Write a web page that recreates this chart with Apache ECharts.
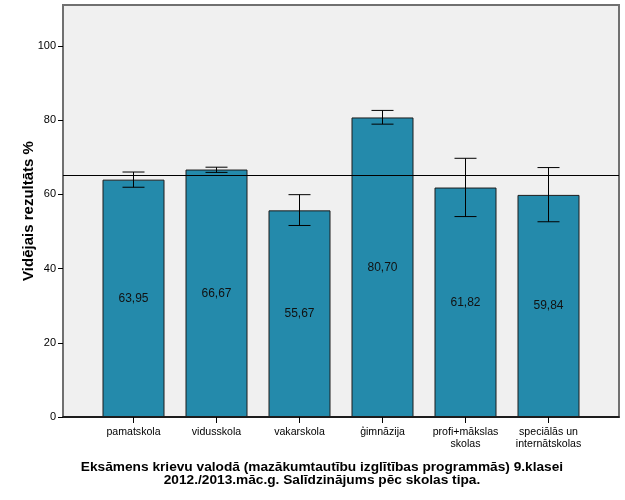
<!DOCTYPE html>
<html>
<head>
<meta charset="utf-8">
<script src="https://cdn.jsdelivr.net/npm/echarts@6/dist/echarts.min.js"></script>
<style>
  html, body { margin: 0; padding: 0; background: #fff; }
  #chart { width: 625px; height: 500px; }
</style>
</head>
<body>
<div id="chart"></div>
<script>
const categories = [
  "pamatskola",
  "vidusskola",
  "vakarskola",
  "ģimnāzija",
  "profi+mākslas\nskolas",
  "speciālās un\ninternātskolas",
];
const means = [63.95, 66.67, 55.67, 80.7, 61.82, 59.84];
const errLow = [61.9, 65.9, 51.6, 78.9, 54.0, 52.6];
const errHigh = [66.0, 67.3, 59.9, 82.6, 69.7, 67.2];
const overallMean = 65.0;
const yTicks = [0, 20, 40, 60, 80, 100];

const font = "Liberation Sans, Arial, sans-serif";

let myChart = echarts.init(document.getElementById("chart"), null, {
  renderer: "canvas",
});

const errData = categories.map((c, i) => [i, errLow[i], errHigh[i]]);

let option = {
  backgroundColor: "#fff",
  animation: false,
  textStyle: { fontFamily: font },
  title: {
    text: "Eksāmens krievu valodā (mazākumtautību izglītības programmās) 9.klasei\n2012./2013.māc.g. Salīdzinājums pēc skolas tipa.",
    left: 317,
    top: 456,
    textAlign: "center",
    textStyle: {
      fontFamily: font,
      fontSize: 13.7,
      fontWeight: "bold",
      color: "#000",
      lineHeight: 13,
    },
  },
  grid: [
    // outer frame
    {
      left: 63, right: 6, top: 5, bottom: 83,
      show: true,
      backgroundColor: "#f0f0f0",
      borderColor: "#707070",
      borderWidth: 2,
    },
    // bars
    { left: 92, width: 498, top: 5, bottom: 83 },
  ],
  xAxis: [
    {
      type: "category",
      gridIndex: 0,
      data: categories,
      axisLine: { show: true, lineStyle: { color: "#000", width: 1.5 } },
      axisTick: { show: false },
      axisLabel: { show: false },
    },
    {
      type: "category",
      gridIndex: 1,
      data: categories,
      axisLine: { show: false },
      axisTick: {
        show: true,
        alignWithLabel: true,
        length: 6,
        lineStyle: { color: "#000" },
      },
      axisLabel: {
        color: "#000",
        fontSize: 10.6,
        lineHeight: 12,
        margin: 9,
        interval: 0,
        fontFamily: font,
      },
    },
  ],
  yAxis: [
    {
      type: "value",
      gridIndex: 0,
      min: 0,
      max: 111,
      interval: 20,
      name: "Vidējais rezultāts %",
      nameLocation: "middle",
      nameGap: 27,
      nameMoveOverlap: false,
      nameTextStyle: {
        fontFamily: font,
        fontSize: 15,
        fontWeight: "bold",
        color: "#000",
      },
      axisLine: { show: false },
      axisTick: { show: true, length: 5, lineStyle: { color: "#000" } },
      splitLine: { show: false },
      axisLabel: {
        color: "#000",
        fontSize: 11,
        margin: 7,
        showMaxLabel: false,
        formatter: (v) => (yTicks.includes(v) ? String(v) : ""),
      },
    },
    {
      type: "value",
      gridIndex: 1,
      min: 0,
      max: 111,
      interval: 20,
      show: false,
    },
  ],
  series: [
    {
      type: "line",
      xAxisIndex: 0,
      yAxisIndex: 0,
      data: [],
      z: 10,
      markLine: {
        silent: true,
        symbol: "none",
        label: { show: false },
        lineStyle: { color: "#000", width: 1, type: "solid" },
        data: [{ yAxis: overallMean }],
      },
    },
    {
      type: "bar",
      xAxisIndex: 1,
      yAxisIndex: 1,
      data: means,
      barWidth: 62,
      z: 3,
      itemStyle: {
        color: "#248aab",
        borderColor: "#1c1c1c",
        borderWidth: 1,
      },
      label: {
        show: true,
        position: "inside",
        color: "#111",
        fontSize: 12,
        fontFamily: font,
        formatter: (p) => p.value.toFixed(2).replace(".", ","),
      },
    },
    {
      type: "custom",
      xAxisIndex: 1,
      yAxisIndex: 1,
      data: errData,
      z: 5,
      renderItem: (params, api) => {
        const x = api.value(0);
        const lo = api.coord([x, api.value(1)]);
        const hi = api.coord([x, api.value(2)]);
        const half = 11;
        const style = { stroke: "#000", lineWidth: 1 };
        return {
          type: "group",
          children: [
            { type: "line", shape: { x1: lo[0], y1: lo[1], x2: hi[0], y2: hi[1] }, style },
            { type: "line", shape: { x1: hi[0] - half, y1: hi[1], x2: hi[0] + half, y2: hi[1] }, style },
            { type: "line", shape: { x1: lo[0] - half, y1: lo[1], x2: lo[0] + half, y2: lo[1] }, style },
          ],
        };
      },
    },
  ],
};

myChart.setOption(option);
</script>
</body>
</html>
